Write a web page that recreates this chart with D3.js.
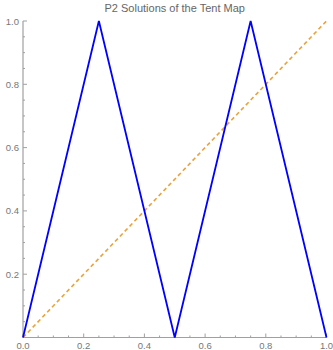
<!DOCTYPE html>
<html><head><meta charset="utf-8">
<script src="https://cdn.jsdelivr.net/npm/d3@7"></script>
<style>body{margin:0;background:#fff}svg{display:block}</style>
</head><body>
<script>
const title = "P2 Solutions of the Tent Map";
const tentX = [0, 0.25, 0.5, 0.75, 1];
const tentY = [0, 1, 0, 1, 0];
const diagX = [0, 1];
const diagY = [0, 1];
const majorTicks = [0.0, 0.2, 0.4, 0.6, 0.8, 1.0];
const yTickLabels = [0.2, 0.4, 0.6, 0.8, 1.0];

const W = 333, H = 350;
const svg = d3.select("body").append("svg").attr("width", W).attr("height", H);
const x = d3.scaleLinear().domain([0, 1]).range([23, 326.5]);
const y = d3.scaleLinear().domain([0, 1]).range([337.5, 21]);

const minor = d3.range(0, 1.0001, 0.05).filter(v => Math.abs(Math.round(v*5) - v*5) > 1e-6);
const axisColor = "#a0a0a0", textColor = "#777";

// axes lines
svg.append("line").attr("x1", x(0)).attr("x2", x(1)).attr("y1", y(0)).attr("y2", y(0))
  .attr("stroke", axisColor).attr("stroke-width", 1.2);
svg.append("line").attr("x1", x(0)).attr("x2", x(0)).attr("y1", y(0)).attr("y2", y(1))
  .attr("stroke", axisColor).attr("stroke-width", 1.2);

// x ticks
svg.selectAll(".xmaj").data(majorTicks).join("line")
  .attr("x1", d => x(d)).attr("x2", d => x(d)).attr("y1", y(0)).attr("y2", y(0) - 4)
  .attr("stroke", axisColor).attr("stroke-width", 1);
svg.selectAll(".xmin").data(minor).join("line")
  .attr("x1", d => x(d)).attr("x2", d => x(d)).attr("y1", y(0)).attr("y2", y(0) - 2)
  .attr("stroke", axisColor).attr("stroke-width", 1);
// y ticks
svg.selectAll(".ymaj").data(majorTicks).join("line")
  .attr("y1", d => y(d)).attr("y2", d => y(d)).attr("x1", x(0)).attr("x2", x(0) + 4)
  .attr("stroke", axisColor).attr("stroke-width", 1);
svg.selectAll(".ymin").data(minor).join("line")
  .attr("y1", d => y(d)).attr("y2", d => y(d)).attr("x1", x(0)).attr("x2", x(0) + 2)
  .attr("stroke", axisColor).attr("stroke-width", 1);

// labels
svg.selectAll(".xl").data(majorTicks).join("text")
  .attr("x", d => x(d)).attr("y", y(0) + 11)
  .attr("text-anchor", "middle").attr("font-family", "Liberation Sans, Arial, sans-serif")
  .attr("font-size", 9.5).attr("fill", textColor).text(d => d.toFixed(1));
svg.selectAll(".yl").data(yTickLabels).join("text")
  .attr("x", x(0) - 4).attr("y", d => y(d) + 3.5)
  .attr("text-anchor", "end").attr("font-family", "Liberation Sans, Arial, sans-serif")
  .attr("font-size", 9.5).attr("fill", textColor).text(d => d.toFixed(1));

svg.append("text").attr("x", (x(0) + x(1)) / 2).attr("y", 12)
  .attr("text-anchor", "middle").attr("font-family", "Liberation Sans, Arial, sans-serif")
  .attr("font-size", 11).attr("fill", "#666").text(title);

const line = d3.line().x(d => x(d[0])).y(d => y(d[1]));
svg.append("path").datum(diagX.map((v, i) => [v, diagY[i]]))
  .attr("d", line).attr("fill", "none").attr("stroke", "#e8a33d")
  .attr("stroke-width", 1.6).attr("stroke-dasharray", "4,3");
svg.append("path").datum(tentX.map((v, i) => [v, tentY[i]]))
  .attr("d", line).attr("fill", "none").attr("stroke", "#0000ff")
  .attr("stroke-width", 1.8).attr("stroke-linejoin", "miter");
</script>
</body></html>
